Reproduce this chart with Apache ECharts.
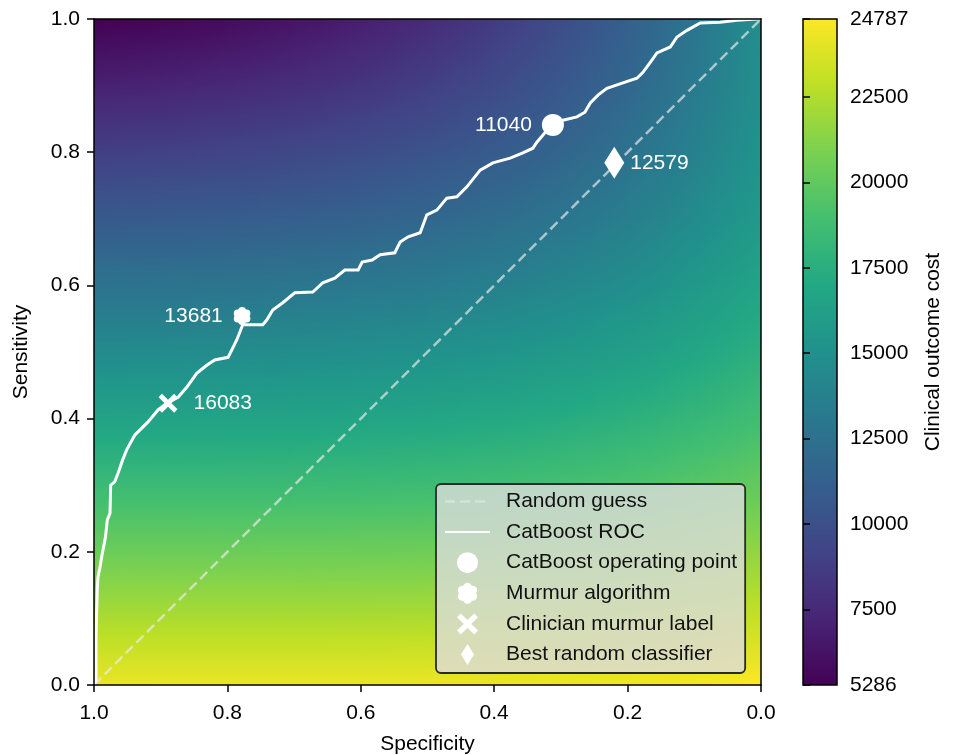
<!DOCTYPE html>
<html>
<head>
<meta charset="utf-8">
<script src="https://cdn.jsdelivr.net/npm/echarts@6/dist/echarts.min.js"></script>
<style>
html,body{margin:0;padding:0;background:#ffffff;}
#main{width:956px;height:755px;}
</style>
</head>
<body>
<div id="main"></div>
<script>
// ---------------- data ----------------
// background cost grid: rows = sensitivity nodes, columns = specificity nodes (left = 1.0 ... right = 0.0)
const specNodes = [1.00,0.95,0.90,0.85,0.80,0.75,0.70,0.65,0.60,0.55,0.50,0.45,0.40,0.35,0.30,0.25,0.20,0.15,0.10,0.05,0.00];
const sensNodes = [0.0,0.1,0.2,0.3,0.4,0.5,0.6,0.7,0.8,0.9,1.0];
const costSens00 = [24235,24244,24251,24256,24259,24261,24262,24263,24265,24268,24274,24283,24298,24319,24348,24386,24436,24499,24576,24671,24785];
const costSens01 = [22314,22319,22323,22325,22326,22327,22328,22331,22336,22345,22360,22380,22407,22444,22493,22554,22629,22722,22835,22967,23125];
const costSens02 = [20387,20389,20390,20391,20392,20394,20400,20408,20422,20441,20467,20503,20550,20609,20683,20774,20884,21013,21168,21348,21560];
const costSens03 = [18454,18454,18456,18458,18463,18471,18483,18502,18527,18562,18607,18664,18737,18825,18932,19060,19211,19388,19595,19830,20102];
const costSens04 = [16520,16522,16526,16534,16546,16563,16588,16621,16664,16720,16789,16876,16981,17106,17254,17427,17631,17863,18130,18433,18776];
const costSens05 = [14590,14597,14608,14625,14648,14681,14723,14777,14845,14929,15030,15152,15297,15468,15667,15896,16158,16456,16795,17177,17603];
const costSens06 = [12670,12687,12709,12740,12781,12834,12900,12982,13081,13200,13343,13512,13703,13927,14186,14478,14813,15189,15610,16081,16604];
const costSens07 = [10770,10800,10839,10891,10955,11035,11132,11250,11388,11556,11743,11963,12216,12504,12831,13201,13618,14082,14598,15170,15803];
const costSens08 = [8898,8948,9011,9088,9184,9298,9434,9596,9783,9999,10247,10533,10854,11220,11627,12084,12592,13156,13782,14472,15225];
const costSens09 = [7066,7142,7234,7348,7480,7637,7823,8035,8281,8561,8878,9236,9639,10090,10593,11151,11765,12446,13188,14006,14899];
const costSens10 = [5286,5397,5529,5677,5861,6072,6312,6587,6901,7255,7653,8098,8595,9144,9753,10423,11159,11971,12848,13806,14850];
const costRows = [costSens00,costSens01,costSens02,costSens03,costSens04,costSens05,costSens06,costSens07,costSens08,costSens09,costSens10];

// CatBoost ROC curve
const rocSpec = [1.000,0.997,0.997,0.995,0.995,0.994,0.991,0.988,0.983,0.980,0.976,0.975,0.969,0.964,0.957,0.951,0.939,0.919,0.904,0.891,0.874,0.861,0.846,0.831,0.819,0.799,0.786,0.777,0.771,0.747,0.741,0.732,0.717,0.699,0.672,0.657,0.639,0.624,0.604,0.598,0.583,0.571,0.549,0.541,0.529,0.511,0.501,0.486,0.471,0.456,0.441,0.421,0.402,0.376,0.357,0.342,0.336,0.324,0.312,0.297,0.276,0.264,0.256,0.244,0.231,0.207,0.186,0.177,0.166,0.156,0.136,0.126,0.111,0.091,0.061,0.036,0.006,0.000];
const rocSens = [0.000,0.008,0.072,0.072,0.147,0.162,0.177,0.195,0.221,0.248,0.258,0.300,0.305,0.318,0.338,0.353,0.375,0.395,0.413,0.423,0.432,0.447,0.468,0.480,0.488,0.492,0.518,0.541,0.541,0.541,0.548,0.563,0.574,0.589,0.590,0.604,0.611,0.623,0.623,0.635,0.638,0.646,0.649,0.665,0.673,0.679,0.706,0.713,0.731,0.733,0.748,0.773,0.784,0.791,0.799,0.806,0.815,0.829,0.841,0.848,0.853,0.860,0.874,0.886,0.896,0.904,0.911,0.920,0.935,0.949,0.958,0.973,0.983,0.994,0.995,0.998,1.000,1.000];

// random-guess diagonal
const diagSpec = [1.0, 0.0];
const diagSens = [0.0, 1.0];

// operating points
const pointNames = ['CatBoost operating point','Murmur algorithm','Clinician murmur label','Best random classifier'];
const pointSpec = [0.312, 0.778, 0.889, 0.220];
const pointSens = [0.841, 0.554, 0.423, 0.784];
const pointCost = [11040, 13681, 16083, 12579];

// axes / colorbar
const costMin = 5286, costMax = 24787;
const colorbarTicks = [5286, 7500, 10000, 12500, 15000, 17500, 20000, 22500, 24787];
const viridisStops = ['#440154','#482475','#414487','#355f8d','#2a788e','#21918c','#22a884','#44bf70','#7ad151','#bddf26','#fde725'];

// ---------------- helpers ----------------
const FONT = "'Liberation Sans', Arial, Helvetica, sans-serif";
const FS = 21;
function hexToRgb(h){return [parseInt(h.slice(1,3),16),parseInt(h.slice(3,5),16),parseInt(h.slice(5,7),16)];}
const stopRgb = viridisStops.map(hexToRgb);
function cmap(v){
  let t = (v - costMin) / (costMax - costMin);
  t = Math.max(0, Math.min(1, t));
  const f = t * (stopRgb.length - 1);
  const i = Math.min(stopRgb.length - 2, Math.floor(f));
  const u = f - i;
  const a = stopRgb[i], b = stopRgb[i+1];
  return 'rgb(' + [0,1,2].map(k => Math.round(a[k] + (b[k]-a[k])*u)).join(',') + ')';
}

// heat cells between grid nodes: [specA, specB, sensLow, sensHigh, vLowA, vLowB, vHighA, vHighB]
const heatData = [];
for (let i = 0; i < sensNodes.length - 1; i++) {
  for (let j = 0; j < specNodes.length - 1; j++) {
    heatData.push([specNodes[j], specNodes[j+1], sensNodes[i], sensNodes[i+1],
      costRows[i][j], costRows[i][j+1], costRows[i+1][j], costRows[i+1][j+1]]);
  }
}

const flowerPath = 'path://M27,21 A21,21 0 1 0 69,21 A21,21 0 1 0 27,21 Z M50.4,34.5 A21,21 0 1 0 92.4,34.5 A21,21 0 1 0 50.4,34.5 Z M50.4,61.5 A21,21 0 1 0 92.4,61.5 A21,21 0 1 0 50.4,61.5 Z M27,75 A21,21 0 1 0 69,75 A21,21 0 1 0 27,75 Z M3.6,61.5 A21,21 0 1 0 45.6,61.5 A21,21 0 1 0 3.6,61.5 Z M3.6,34.5 A21,21 0 1 0 45.6,34.5 A21,21 0 1 0 3.6,34.5 Z M24,48 A24,24 0 1 0 72,48 A24,24 0 1 0 24,48 Z';
const xPath = 'path://M0,18 L18,0 L50,32 L82,0 L100,18 L68,50 L100,82 L82,100 L50,68 L18,100 L0,82 L32,50 Z';
const diamondPath = 'path://M10,0 L20,16 L10,32 L0,16 Z';

const pointSymbols = ['circle', flowerPath, xPath, 'diamond'];
const pointSizes = [22, 18, 19, [20, 32]];
const labelPos = ['left', 'left', 'right', 'right'];
const labelDist = [10, 11, 16, 6];

const chart = echarts.init(document.getElementById('main'), null, {renderer: 'canvas'});

const axisLineStyle = {color: '#000', width: 1.5};
const tickLabel = {fontSize: FS, color: '#000', fontFamily: FONT};

const series = [];
series.push({
  type: 'custom', name: 'cost', xAxisIndex: 0, yAxisIndex: 0, z: 1, silent: true, clip: true,
  data: heatData,
  encode: {x: [0, 1], y: [2, 3]},
  renderItem: function (params, api) {
    const sA = api.value(0), sB = api.value(1), lo = api.value(2), hi = api.value(3);
    const pA = api.coord([sA, lo]), pB = api.coord([sB, hi]);
    const aLeft = pA[0] <= pB[0];
    const x0 = Math.min(pA[0], pB[0]), x1 = Math.max(pA[0], pB[0]);
    const y0 = Math.min(pA[1], pB[1]), y1 = Math.max(pA[1], pB[1]);
    const vBL = aLeft ? api.value(4) : api.value(5), vBR = aLeft ? api.value(5) : api.value(4);
    const vTL = aLeft ? api.value(6) : api.value(7), vTR = aLeft ? api.value(7) : api.value(6);
    const w = x1 - x0, h = y1 - y0;
    const gx = ((vBR - vBL) + (vTR - vTL)) / (2 * w);
    const gy = ((vBL - vTL) + (vBR - vTR)) / (2 * h);
    const vc = (vBL + vBR + vTL + vTR) / 4;
    const cx = (x0 + x1) / 2, cy = (y0 + y1) / 2;
    const gm = Math.hypot(gx, gy);
    let fill;
    if (gm < 1e-9) {
      fill = cmap(vc);
    } else {
      const ux = gx / gm, uy = gy / gm;
      const half = (w * Math.abs(ux) + h * Math.abs(uy)) / 2;
      const v0 = vc - gm * half, v1 = vc + gm * half;
      const stops = [0, 0.25, 0.5, 0.75, 1].map(t => ({offset: t, color: cmap(v0 + (v1 - v0) * t)}));
      fill = new echarts.graphic.LinearGradient(cx - ux * half, cy - uy * half, cx + ux * half, cy + uy * half, stops, true);
    }
    return {
      type: 'rect',
      shape: {x: x0 - 0.6, y: y0 - 0.6, width: w + 1.2, height: h + 1.2},
      style: {fill: fill}
    };
  }
});
series.push({
  type: 'line', name: 'Random guess', xAxisIndex: 0, yAxisIndex: 0, z: 4,
  data: diagSpec.map((s, i) => [s, diagSens[i]]),
  symbol: 'none', silent: true,
  lineStyle: {color: 'rgba(235,235,235,0.68)', width: 2.5, type: [10, 5]},
  itemStyle: {color: 'rgba(235,235,235,0.68)'}
});
series.push({
  type: 'line', name: 'CatBoost ROC', xAxisIndex: 0, yAxisIndex: 0, z: 5,
  data: rocSpec.map((s, i) => [s, rocSens[i]]),
  symbol: 'none', silent: true,
  lineStyle: {color: '#ffffff', width: 3, join: 'miter'},
  itemStyle: {color: '#ffffff'}
});
pointNames.forEach((nm, k) => {
  series.push({
    type: 'scatter', name: nm, xAxisIndex: 0, yAxisIndex: 0, z: 6,
    data: [[pointSpec[k], pointSens[k], pointCost[k]]],
    symbol: pointSymbols[k], symbolSize: pointSizes[k], symbolKeepAspect: true,
    itemStyle: {color: '#ffffff', opacity: 1},
    label: {show: true, position: labelPos[k], distance: labelDist[k], color: '#ffffff',
      fontSize: FS, fontFamily: FONT, formatter: p => String(p.value[2])}
  });
});
// colorbar
series.push({
  type: 'custom', name: 'colorbar', xAxisIndex: 2, yAxisIndex: 2, z: 3, silent: true,
  data: [[0, costMin, 1, costMax]],
  renderItem: function (params, api) {
    const p0 = api.coord([api.value(0), api.value(3)]);
    const p1 = api.coord([api.value(2), api.value(1)]);
    const n = viridisStops.length - 1;
    const stops = viridisStops.map((c, i) => ({offset: 1 - i / n, color: c})).reverse();
    return {
      type: 'rect',
      shape: {x: p0[0], y: p0[1], width: p1[0] - p0[0], height: p1[1] - p0[1]},
      style: {fill: new echarts.graphic.LinearGradient(0, 0, 0, 1, stops), stroke: '#000', lineWidth: 1.5}
    };
  }
});

const option = {
  animation: false,
  backgroundColor: '#ffffff',
  textStyle: {fontFamily: FONT},
  grid: [
    {left: 94, top: 19, width: 667, height: 666, show: false, containLabel: false, outerBoundsMode: 'none'},
    {left: 803, top: 19, width: 34, height: 666, show: false, containLabel: false, outerBoundsMode: 'none'}
  ],
  xAxis: [
    {type: 'value', gridIndex: 0, min: 0, max: 1, interval: 0.2, inverse: true, position: 'bottom', z: 10,
     axisLine: {show: true, onZero: false, lineStyle: axisLineStyle},
     axisTick: {show: true, length: 7, inside: false, lineStyle: axisLineStyle},
     axisLabel: Object.assign({margin: 18, formatter: v => v.toFixed(1)}, tickLabel),
     splitLine: {show: false},
     name: 'Specificity', nameLocation: 'middle', nameGap: 49,
     nameTextStyle: {fontSize: FS, color: '#000', fontFamily: FONT}},
    {type: 'value', gridIndex: 0, min: 0, max: 1, inverse: true, position: 'top', z: 10,
     axisLine: {show: true, onZero: false, lineStyle: axisLineStyle},
     axisTick: {show: false}, axisLabel: {show: false}, splitLine: {show: false}},
    {type: 'value', gridIndex: 1, min: 0, max: 1, show: false}
  ],
  yAxis: [
    {type: 'value', gridIndex: 0, min: 0, max: 1, interval: 0.2, position: 'left', z: 10,
     axisLine: {show: true, onZero: false, lineStyle: axisLineStyle},
     axisTick: {show: true, length: 7, inside: false, lineStyle: axisLineStyle},
     axisLabel: Object.assign({margin: 14, formatter: v => v.toFixed(1)}, tickLabel),
     splitLine: {show: false},
     name: 'Sensitivity', nameLocation: 'middle', nameGap: 62, nameRotate: 90,
     nameTextStyle: {fontSize: FS, color: '#000', fontFamily: FONT}},
    {type: 'value', gridIndex: 0, min: 0, max: 1, position: 'right', z: 10,
     axisLine: {show: true, onZero: false, lineStyle: axisLineStyle},
     axisTick: {show: false}, axisLabel: {show: false}, splitLine: {show: false}},
    {type: 'value', gridIndex: 1, min: costMin, max: costMax, position: 'right', z: 10,
     axisLine: {show: false},
     axisTick: {show: true, length: 7, inside: false, lineStyle: axisLineStyle, customValues: colorbarTicks},
     axisLabel: Object.assign({margin: 13, customValues: colorbarTicks, formatter: v => String(Math.round(v))}, tickLabel),
     splitLine: {show: false},
     name: 'Clinical outcome cost', nameLocation: 'middle', nameGap: 86, nameRotate: 90,
     nameTextStyle: {fontSize: FS, color: '#000', fontFamily: FONT}}
  ],
  legend: {
    show: true, orient: 'vertical', left: 436, top: 484,
    selectedMode: false,
    itemWidth: 45, itemHeight: 21, itemGap: 9.6,
    padding: [7, 8, 8, 8],
    backgroundColor: 'rgba(220,220,220,0.8)',
    borderColor: '#2a2a2a', borderWidth: 1.8, borderRadius: 5,
    textStyle: {fontSize: FS, color: '#111', fontFamily: FONT, lineHeight: 21, padding: [0, 0, 0, 11]},
    data: [
      {name: 'Random guess', itemStyle: {opacity: 0}},
      {name: 'CatBoost ROC', itemStyle: {opacity: 0}},
      {name: 'CatBoost operating point', icon: 'circle'},
      {name: 'Murmur algorithm', icon: flowerPath},
      {name: 'Clinician murmur label', icon: xPath},
      {name: 'Best random classifier', icon: diamondPath}
    ]
  },
  series: series
};
chart.setOption(option);
</script>
</body>
</html>
